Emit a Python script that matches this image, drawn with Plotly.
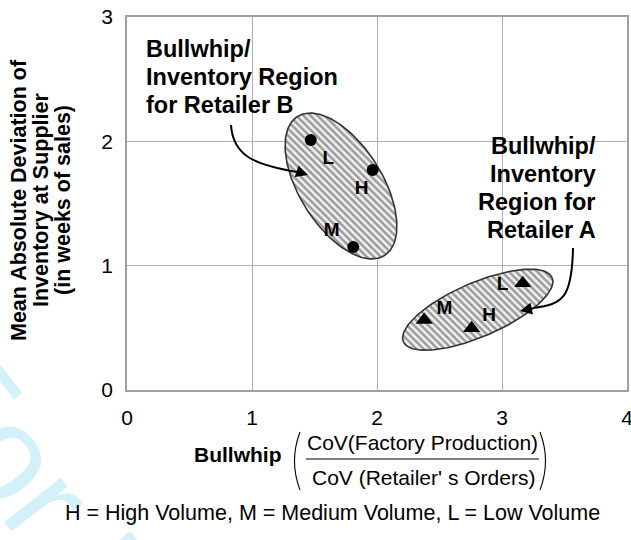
import numpy as np
import plotly.graph_objects as go

# ---------------- data ----------------
x_ticks = [0, 1, 2, 3, 4]
y_ticks = [0, 1, 2, 3]

retailer_b_labels = ["L", "H", "M"]
retailer_b_x = [1.47, 1.965, 1.81]
retailer_b_y = [2.01, 1.77, 1.15]
retailer_b_label_x = [1.61, 1.877, 1.637]
retailer_b_label_y = [1.855, 1.614, 1.273]

retailer_a_labels = ["L", "M", "H"]
retailer_a_x = [3.166, 2.378, 2.757]
retailer_a_y = [0.858, 0.563, 0.496]
retailer_a_label_x = [3.005, 2.539, 2.896]
retailer_a_label_y = [0.845, 0.649, 0.590]

# region ellipses: centre (data), semi-axes (px), tilt (deg)
region_b = dict(cx=1.712, cy=1.641, a=82, b=41.5, tilt=32, kind="vertical")
region_a = dict(cx=2.806, cy=0.646, a=81, b=27, tilt=23.3, kind="horizontal")

title_b_lines = ["Bullwhip/", "Inventory Region", "for Retailer B"]
title_a_lines = ["Bullwhip/", "Inventory", "Region for", "Retailer A"]
footer = "H = High Volume, M = Medium Volume, L = Low Volume"
y_title_lines = ["Mean Absolute Deviation of", "Inventory at Supplier", "(in weeks of sales)"]

# ---------------- layout constants ----------------
W, H = 631, 540
ML, MR, MT, MB = 127, 4, 17, 150
PW, PH = W - ML - MR, H - MT - MB
SX, SY = PW / 4.0, PH / 3.0
FONT = "Liberation Sans, Arial, Helvetica, sans-serif"


def ellipse(reg):
    t = np.linspace(0, 2 * np.pi, 181)
    th = np.radians(reg["tilt"])
    if reg["kind"] == "vertical":
        u = (-np.sin(th), np.cos(th))
        v = (np.cos(th), np.sin(th))
    else:
        u = (np.cos(th), np.sin(th))
        v = (-np.sin(th), np.cos(th))
    dx = reg["a"] * np.cos(t) * u[0] + reg["b"] * np.sin(t) * v[0]
    dy = reg["a"] * np.cos(t) * u[1] + reg["b"] * np.sin(t) * v[1]
    return reg["cx"] + dx / SX, reg["cy"] + dy / SY


def px(xp):
    return (xp - ML) / PW


def py(yp):
    return (H - MB - yp) / PH


fig = go.Figure()

for reg in (region_b, region_a):
    ex, ey = ellipse(reg)
    fig.add_trace(go.Scatter(
        x=ex, y=ey, mode="lines", fill="toself",
        line=dict(color="#333333", width=1.6),
        fillcolor="rgba(0,0,0,0)",
        fillpattern=dict(shape="\\", fgcolor="#444444", bgcolor="#f2f2f2",
                         size=5, solidity=0.5),
        hoverinfo="skip", showlegend=False))

fig.add_trace(go.Scatter(x=retailer_b_x, y=retailer_b_y, mode="markers",
                         marker=dict(symbol="circle", size=12, color="black"),
                         showlegend=False))
fig.add_trace(go.Scatter(x=retailer_a_x, y=retailer_a_y, mode="markers",
                         marker=dict(symbol="triangle-up", size=15, color="black"),
                         showlegend=False))
fig.add_trace(go.Scatter(x=retailer_b_label_x, y=retailer_b_label_y, mode="text",
                         text=["<b>%s</b>" % s for s in retailer_b_labels],
                         textfont=dict(family=FONT, size=19, color="black"),
                         showlegend=False))
fig.add_trace(go.Scatter(x=retailer_a_label_x, y=retailer_a_label_y, mode="text",
                         text=["<b>%s</b>" % s for s in retailer_a_labels],
                         textfont=dict(family=FONT, size=19, color="black"),
                         showlegend=False))

shapes = []
annotations = []

# watermark
annotations.append(dict(
    text="For Peer Review", xref="paper", yref="paper",
    x=px(250), y=py(760), xanchor="center", yanchor="middle",
    textangle=52, showarrow=False,
    font=dict(family=FONT, size=136, color="#d2f1fb")))

# curved arrows
arrow_b = [(0.832, 2.131), (0.848, 1.866), (1.048, 1.810), (1.36, 1.753)]
tip_b = (1.448, 1.729)
arrow_a = [(3.568, 1.142), (3.56, 0.724), (3.48, 0.692), (3.248, 0.660)]
tip_a = (3.144, 0.635)
for pts in (arrow_b, arrow_a):
    p = "M %f,%f C %f,%f %f,%f %f,%f" % (pts[0] + pts[1] + pts[2] + pts[3])
    shapes.append(dict(type="path", xref="x", yref="y", path=p,
                       line=dict(color="black", width=2)))
annotations.append(dict(x=tip_b[0], y=tip_b[1], xref="x", yref="y", text="",
                        showarrow=True, arrowhead=2, arrowsize=1.2, arrowwidth=2,
                        arrowcolor="black", ax=-12, ay=-4))
annotations.append(dict(x=tip_a[0], y=tip_a[1], xref="x", yref="y", text="",
                        showarrow=True, arrowhead=2, arrowsize=1.2, arrowwidth=2,
                        arrowcolor="black", ax=14, ay=-3))

# region titles (one annotation per line for tight leading)
for line, yc in zip(title_b_lines, [49, 77, 105]):
    annotations.append(dict(text="<b>%s</b>" % line, xref="paper", yref="paper",
                            x=px(144), y=py(yc), xanchor="left", yanchor="middle",
                            showarrow=False, font=dict(family=FONT, size=23.5, color="black")))
for line, yc in zip(title_a_lines, [146, 174, 202, 230]):
    annotations.append(dict(text="<b>%s</b>" % line, xref="paper", yref="paper",
                            x=px(598), y=py(yc), xanchor="right", yanchor="middle",
                            showarrow=False, font=dict(family=FONT, size=23.5, color="black")))

# y title
for line, xc in zip(y_title_lines, [19, 41, 63]):
    annotations.append(dict(text="<b>%s</b>" % line, xref="paper", yref="paper",
                            x=px(xc), y=py(200), xanchor="center", yanchor="middle",
                            textangle=-90, showarrow=False,
                            font=dict(family=FONT, size=21.5, color="black")))

# x title (with fraction)
annotations.append(dict(text="<b>Bullwhip</b>", xref="paper", yref="paper",
                        x=px(238), y=py(455), xanchor="center", yanchor="middle",
                        showarrow=False, font=dict(family=FONT, size=21, color="black")))
annotations.append(dict(text="CoV(Factory Production)", xref="paper", yref="paper",
                        x=px(422), y=py(442), xanchor="center", yanchor="middle",
                        showarrow=False, font=dict(family=FONT, size=21, color="black")))
annotations.append(dict(text="CoV (Retailer' s Orders)", xref="paper", yref="paper",
                        x=px(423), y=py(477), xanchor="center", yanchor="middle",
                        showarrow=False, font=dict(family=FONT, size=21, color="black")))
shapes.append(dict(type="line", xref="paper", yref="paper",
                   x0=px(306), x1=px(539), y0=py(459), y1=py(459),
                   line=dict(color="black", width=1.2)))
for x_end, x_mid in ((300, 289), (540, 551)):
    p = "M %f,%f Q %f,%f %f,%f" % (px(x_end), py(432), px(x_mid), py(461), px(x_end), py(490))
    shapes.append(dict(type="path", xref="paper", yref="paper", path=p,
                       line=dict(color="black", width=1.1)))

annotations.append(dict(text=footer, xref="paper", yref="paper",
                        x=px(332), y=py(513), xanchor="center", yanchor="middle",
                        showarrow=False, font=dict(family=FONT, size=21.5, color="black")))

axis_common = dict(showgrid=True, gridcolor="#b0b0b0", gridwidth=1, zeroline=False,
                   showline=True, mirror=True, linecolor="#a0a0a0", linewidth=1.5,
                   ticks="", ticklabelstandoff=8, automargin=False,
                   ticklabeloverflow="allow",
                   tickfont=dict(family=FONT, size=21, color="black"), fixedrange=True)

fig.update_layout(
    width=W, height=H,
    margin=dict(l=ML, r=MR, t=MT, b=MB, pad=0, autoexpand=False),
    paper_bgcolor="white", plot_bgcolor="white",
    font=dict(family=FONT, color="black"),
    shapes=shapes, annotations=annotations,
    xaxis=dict(range=[0, 4], tickvals=x_ticks, **axis_common),
    yaxis=dict(range=[0, 3], tickvals=y_ticks, **axis_common),
    showlegend=False,
)

fig.write_html(
    "out.html",
    config={"displayModeBar": False},
    post_script="document.body.style.margin='0px';document.body.style.padding='0px';"
                "document.body.style.overflow='hidden';",
)
